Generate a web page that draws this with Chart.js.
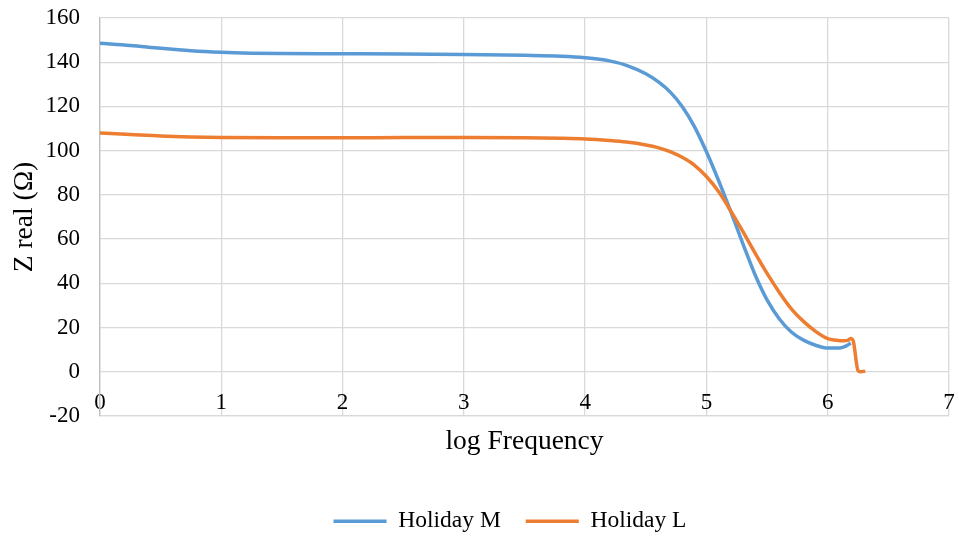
<!DOCTYPE html>
<html>
<head>
<meta charset="utf-8">
<script src="https://cdn.jsdelivr.net/npm/chart.js@4.4.1/dist/chart.umd.min.js"></script>
<style>
  html, body { margin: 0; padding: 0; background: #ffffff; }
  #wrap { width: 959px; height: 540px; position: relative; }
</style>
</head>
<body>
<div id="wrap"><canvas id="c" width="959" height="540"></canvas></div>
<script>
// ---- data ----
const seriesNames = ["Holiday M", "Holiday L"];
const seriesColors = ["#5B9BD5", "#ED7D31"];

const logFreqM = [0, 0.25, 0.5, 0.75, 1.0, 1.25, 1.5, 2.0, 2.5, 3.0, 3.5, 3.8, 4.0, 4.2, 4.34, 4.5, 4.61, 4.7, 4.8, 4.9, 5.0, 5.1, 5.2, 5.3, 5.4, 5.5, 5.6, 5.7, 5.8, 5.9, 6.0, 6.1, 6.15, 6.19];
const zRealM   = [148.6, 147.6, 146.3, 145.2, 144.5, 144.1, 143.9, 143.8, 143.7, 143.5, 143.1, 142.7, 142.0, 140.6, 138.6, 134.8, 130.9, 126.6, 120.0, 111.0, 99.5, 86.5, 72.5, 58.0, 44.0, 32.5, 24.0, 18.0, 14.3, 12.0, 10.7, 10.8, 11.6, 13.0];

const logFreqL = [0, 0.25, 0.5, 0.75, 1.0, 1.5, 2.0, 2.5, 3.0, 3.5, 3.8, 4.0, 4.2, 4.34, 4.5, 4.6, 4.7, 4.8, 4.9, 5.0, 5.1, 5.2, 5.3, 5.4, 5.5, 5.6, 5.7, 5.8, 5.9, 6.0, 6.07, 6.13, 6.17, 6.19, 6.21, 6.25, 6.27, 6.31];
const zRealL   = [108.0, 107.3, 106.6, 106.2, 106.0, 105.8, 105.8, 105.9, 105.9, 105.8, 105.6, 105.3, 104.6, 103.9, 102.6, 101.4, 99.6, 97.0, 93.5, 88.3, 81.5, 72.8, 63.5, 53.8, 44.5, 36.0, 28.5, 22.8, 18.3, 15.0, 14.3, 14.0, 14.3, 15.1, 14.0, 0.5, 0.0, 0.3];

const xTicks = [0, 1, 2, 3, 4, 5, 6, 7];
const yTicks = [-20, 0, 20, 40, 60, 80, 100, 120, 140, 160];
const xTitle = "log Frequency";
const yTitle = "Z real (Ω)";

// ---- build ----
function pts(xs, ys) { return xs.map((x, i) => ({ x: x, y: ys[i] })); }

const FONT = "'Liberation Serif', 'Times New Roman', serif";
const GRID = "#d9d9d9";
const LEGEND_SHIFT = 35.5;

const legendShift = {
  id: 'legendShift',
  afterLayout(chart) {
    const lg = chart.legend;
    if (lg) { lg.left += LEGEND_SHIFT; lg.right += LEGEND_SHIFT; }
  }
};

new Chart(document.getElementById('c'), {
  type: 'scatter',
  plugins: [legendShift],
  data: {
    datasets: [
      { label: seriesNames[0], data: pts(logFreqM, zRealM), borderColor: seriesColors[0], backgroundColor: seriesColors[0],
        showLine: true, borderWidth: 3.5, pointRadius: 0, cubicInterpolationMode: 'monotone', order: 2, xAxisID: 'x', yAxisID: 'y' },
      { label: seriesNames[1], data: pts(logFreqL, zRealL), borderColor: seriesColors[1], backgroundColor: seriesColors[1],
        showLine: true, borderWidth: 3.5, pointRadius: 0, cubicInterpolationMode: 'monotone', order: 1, xAxisID: 'x', yAxisID: 'y' }
    ]
  },
  options: {
    responsive: false,
    animation: false,
    devicePixelRatio: 1,
    layout: { padding: { left: 0, right: 10, top: 18, bottom: -3 } },
    plugins: {
      legend: {
        position: 'bottom',
        labels: {
          usePointStyle: true,
          pointStyle: 'line',
          pointStyleWidth: 53,
          color: '#000',
          padding: 25,
          font: { family: FONT, size: 23.5 },
          sort: (a, b) => a.datasetIndex - b.datasetIndex
        }
      },
      tooltip: { enabled: false }
    },
    scales: {
      x: {
        type: 'linear',
        position: 'bottom',
        min: 0, max: 7,
        afterBuildTicks: (s) => { s.ticks = xTicks.map(v => ({ value: v })); },
        afterFit: (s) => { s.paddingLeft = 0; s.paddingRight = 0; },
        grid: { color: GRID, lineWidth: 1.3, drawTicks: false },
        border: { color: GRID, width: 1.3 },
        ticks: { display: false },
        title: { display: true, text: xTitle, color: '#000', font: { family: FONT, size: 27.5 }, padding: { top: 9, bottom: 26.5 } }
      },
      xl: {
        type: 'linear',
        position: { y: 0 },
        min: 0, max: 7,
        afterBuildTicks: (s) => { s.ticks = xTicks.map(v => ({ value: v })); },
        afterFit: (s) => { s.paddingLeft = 0; s.paddingRight = 0; },
        grid: { display: false, drawTicks: false },
        border: { display: false },
        ticks: { color: '#000', padding: 17, font: { family: FONT, size: 23 }, maxRotation: 0, autoSkip: false }
      },
      y: {
        type: 'linear',
        min: -20, max: 160,
        afterBuildTicks: (s) => { s.ticks = yTicks.map(v => ({ value: v })); },
        afterFit: (s) => { s.width = 100; s.paddingTop = 0; s.paddingBottom = 0; },
        grid: { color: GRID, lineWidth: 1.3, drawTicks: false },
        border: { color: '#bfbfbf', width: 1.3 },
        ticks: { color: '#000', padding: 20, font: { family: FONT, size: 23 } },
        title: { display: true, text: yTitle, color: '#000', font: { family: FONT, size: 27.5 }, padding: { top: 8, bottom: 0 } }
      }
    }
  }
});
</script>
</body>
</html>
